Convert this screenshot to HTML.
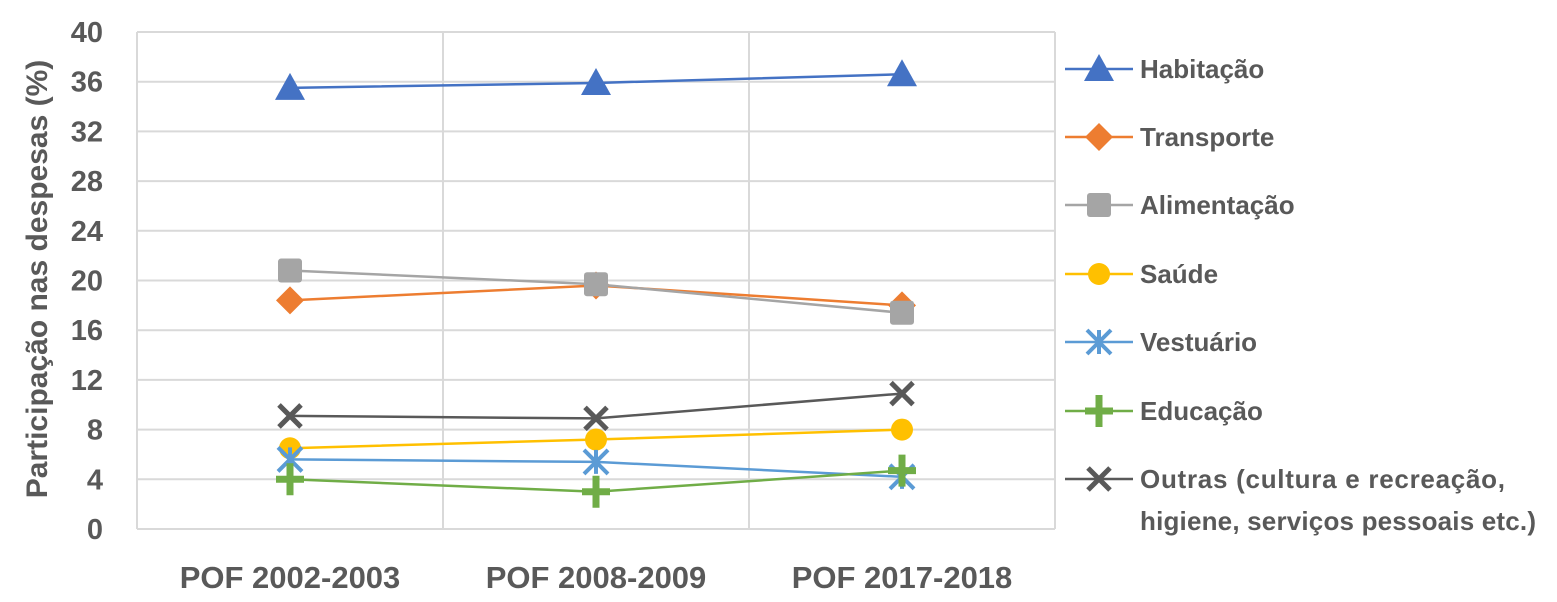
<!DOCTYPE html>
<html><head><meta charset="utf-8"><style>
html,body{margin:0;padding:0;background:#fff;}
svg text{font-family:"Liberation Sans",sans-serif;font-weight:bold;fill:#595959;}
</style></head><body>
<svg width="1557" height="597" id="c"></svg>
<script>
const categories=["POF 2002-2003","POF 2008-2009","POF 2017-2018"];
const yTicks=[0,4,8,12,16,20,24,28,32,36,40];
const seriesNames=["Habitação","Transporte","Alimentação","Saúde","Vestuário","Educação","Outras"];
const habitacao=[35.5,35.9,36.6];
const transporte=[18.4,19.6,18.0];
const alimentacao=[20.8,19.7,17.4];
const saude=[6.5,7.2,8.0];
const vestuario=[5.6,5.4,4.2];
const educacao=[4.0,3.0,4.7];
const outras=[9.1,8.9,10.9];

const NS="http://www.w3.org/2000/svg";
const svg=document.getElementById('c');
const L=137,R=1055,T=32,B=529;
const bw=(R-L)/categories.length;
const x=i=>L+bw*(i+0.5);
const y=v=>B-(v/40)*(B-T);
function el(tag,attrs,parent){const e=document.createElementNS(NS,tag);for(const k in attrs)e.setAttribute(k,attrs[k]);(parent||svg).appendChild(e);return e;}

yTicks.forEach(t=>{
  const g=el('line',{x1:L,x2:R,y1:y(t),y2:y(t),stroke:'#d9d9d9','stroke-width':2});
  
  
  const tx=el('text',{x:103,y:y(t)+10,'text-anchor':'end','font-size':29});
  tx.textContent=t;
  
  
});
for(let i=0;i<=categories.length;i++){
  const g=el('line',{x1:L+bw*i,x2:L+bw*i,y1:T,y2:B,stroke:'#d9d9d9','stroke-width':2});
  
  
}
categories.forEach((c,i)=>{
  const tx=el('text',{x:x(i),y:588,'text-anchor':'middle','font-size':31});
  tx.textContent=c;
  
  
});
const yt=el('text',{x:0,y:0,'text-anchor':'middle','font-size':30,transform:'translate(47,279) rotate(-90)'});
yt.textContent='Participação nas despesas (%)';



function marker(type,cx,cy,color,g){
  if(type==='tri')el('polygon',{points:`${cx},${cy-15} ${cx+15},${cy+12} ${cx-15},${cy+12}`,fill:color},g);
  else if(type==='dia')el('polygon',{points:`${cx},${cy-14} ${cx+14},${cy} ${cx},${cy+14} ${cx-14},${cy}`,fill:color},g);
  else if(type==='sq')el('rect',{x:cx-12,y:cy-12,width:24,height:24,rx:3,fill:color},g);
  else if(type==='circ')el('circle',{cx:cx,cy:cy,r:11,fill:color},g);
  else if(type==='x'){el('path',{d:`M${cx-11},${cy-11}L${cx+11},${cy+11}M${cx+11},${cy-11}L${cx-11},${cy+11}`,stroke:color,'stroke-width':5,fill:'none'},g);}
  else if(type==='star'){el('path',{d:`M${cx-12},${cy-12}L${cx+12},${cy+12}M${cx+12},${cy-12}L${cx-12},${cy+12}M${cx},${cy-12}L${cx},${cy+12}`,stroke:color,'stroke-width':4,fill:'none'},g);}
  else if(type==='plus'){el('path',{d:`M${cx-14},${cy}L${cx+14},${cy}M${cx},${cy-16}L${cx},${cy+16}`,stroke:color,'stroke-width':7,fill:'none'},g);}
}
const series=[
 {name:'habitacao',data:habitacao,color:'#4472c4',m:'tri',label:'Habitação'},
 {name:'transporte',data:transporte,color:'#ed7d31',m:'dia',label:'Transporte'},
 {name:'alimentacao',data:alimentacao,color:'#a5a5a5',m:'sq',label:'Alimentação'},
 {name:'saude',data:saude,color:'#ffc000',m:'circ',label:'Saúde'},
 {name:'vestuario',data:vestuario,color:'#5b9bd5',m:'star',label:'Vestuário'},
 {name:'educacao',data:educacao,color:'#70ad47',m:'plus',label:'Educação'},
 {name:'outras',data:outras,color:'#595959',m:'x',label:'Outras (cultura e recreação,'}
];
const drawOrder=[6,3,4,5,1,2,0];
drawOrder.forEach(si=>{
  const s=series[si];
  const g=el('g',{});
  
  
  el('polyline',{points:s.data.map((v,i)=>x(i)+','+y(v)).join(' '),fill:'none',stroke:s.color,'stroke-width':2.5},g);
  s.data.forEach((v,i)=>marker(s.m,x(i),y(v),s.color,g));
});
const legY=[69,137,205,274,342,411,479];
series.forEach((s,i)=>{
  const g=el('g',{});
  
  
  el('line',{x1:1065,x2:1133,y1:legY[i],y2:legY[i],stroke:s.color,'stroke-width':2.5},g);
  marker(s.m,1099,legY[i],s.color,g);
  const t=el('text',{x:1140,y:legY[i]+9,'font-size':26,textLength:i===6?365:null},g);
  if(i!==6)t.removeAttribute('textLength');
  t.textContent=s.label;
});
const t2=el('text',{x:1140,y:530,'font-size':26,textLength:396});
t2.textContent='higiene, serviços pessoais etc.)';


</script>
</body></html>
